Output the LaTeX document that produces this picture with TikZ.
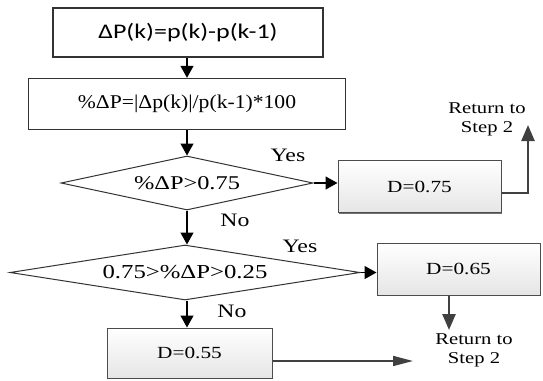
\documentclass[tikz,border=0pt]{standalone}
\usepackage{fontspec}
\setmainfont{Liberation Serif}
\newfontfamily\carlito{Carlito}
\usetikzlibrary{shapes.geometric,arrows.meta,shadows}
\newcommand\wtext[1]{\scalebox{1.25}[1]{#1}}
\newcommand\fsz[2]{\fontsize{#1}{#2}\selectfont}
\begin{document}
\begin{tikzpicture}[x=1pt,y=-1pt,
  mainbox/.style={draw=black!80, line width=1.4pt, fill=white, inner sep=0pt},
  decision/.style={diamond, draw=black!80, line width=1pt, fill=white, inner sep=0pt, aspect=5},
  dbox/.style={draw=black!70, line width=1pt, top color=white, bottom color=black!10,
    drop shadow={shadow xshift=1.3pt, shadow yshift=-1.3pt, fill=black, opacity=0.55},
    minimum width=163pt, minimum height=52pt, inner sep=0pt, font=\fsz{17}{20}},
  lab/.style={inner sep=0pt, font=\fsz{19}{22}},
  rtext/.style={inner sep=0pt, align=center, font=\fsz{16.5}{19}},
  flow/.style={draw=black, line width=1.3pt, -{Triangle[length=12pt,width=13pt]}},
  ret/.style={draw=black!75, line width=2.5pt, -{Triangle[length=16pt,width=13pt]}},
  thinret/.style={draw=black!75, line width=1.6pt, -{Triangle[length=20pt,width=10pt]}}]
\useasboundingbox (0,0) rectangle (543,380);

\node[mainbox, minimum width=270pt, minimum height=49pt] (b1) at (188,32.5)
  {\carlito\fsz{20.8}{23}\wtext{ΔP(k)=p(k)-p(k-1)}};
\node[mainbox, minimum width=317pt, minimum height=51pt] (b2) at (187,104)
  {\fsz{19.5}{22}\scalebox{1.11}[1]{\%ΔP=|Δp(k)|/p(k-1)*100}};
\node[decision, minimum width=252pt, minimum height=54pt] (d1) at (187,183)
  {\fsz{19.5}{22}\wtext{\%ΔP>0.75}};
\node[decision, minimum width=350pt, minimum height=55pt] (d2) at (185,272.5)
  {\fsz{19.8}{22}\wtext{0.75>\%ΔP>0.25}};
\node[dbox] (D75) at (419.5,186.5) {\wtext{D=0.75}};
\node[dbox] (D65) at (458.5,269) {\wtext{D=0.65}};
\node[dbox, minimum width=165pt, minimum height=50pt] (D55) at (189.5,353) {\wtext{D=0.55}};

\node[lab] (y1) at (288,155) {\wtext{Yes}};
\node[lab] (n1) at (235,220) {\wtext{No}};
\node[lab] (y2) at (300,246) {\wtext{Yes}};
\node[lab] (n2) at (232,311) {\wtext{No}};

\node[rtext] (rt1) at (487,119.5) {\wtext{Return to}\\\wtext{Step 2}};
\node[rtext] (rt2) at (474,350.5) {\wtext{Return to}\\\wtext{Step 2}};

\coordinate (r1c) at (528,193);
\coordinate (r1t) at (528,125);
\coordinate (r2t) at (449,330);
\coordinate (r3t) at (413,361);

\draw[flow] (b1.south -| 187,0) -- (b2.north -| 187,0);
\draw[flow] (b2.south -| d1.north) -- (d1.north);
\draw[flow] (d1.south) -- (d1.south |- d2.north);
\draw[flow] (d1.east) -- (d1.east -| D75.west);
\draw[flow] (d2.east) -- (d2.east -| D65.west);
\draw[flow] (d2.south -| d1.south) -- (d1.south |- D55.north);

\draw[ret] ([yshift=-6.5pt]D75.east) -- (r1c) -- (r1t);
\draw[ret] ([xshift=-9.5pt]D65.south) -- (r2t);
\draw[thinret] ([yshift=-8pt]D55.east) -- (r3t);
\end{tikzpicture}
\end{document}
